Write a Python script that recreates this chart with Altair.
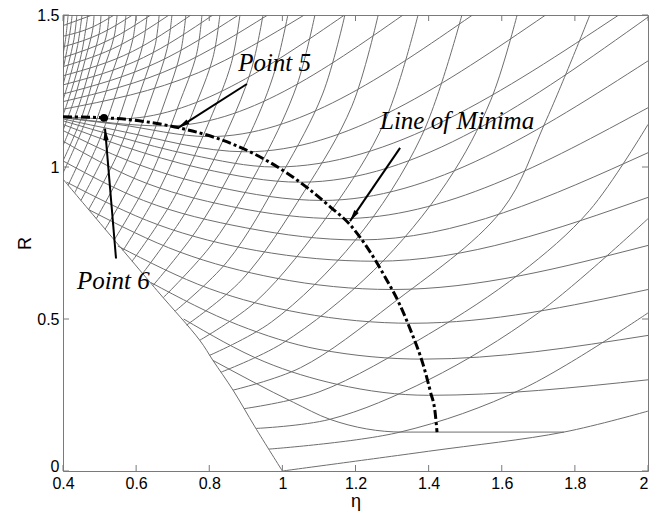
import math
import altair as alt
import pandas as pd

# ---- carpet of R versus eta -------------------------------------------------
# family A: curves with a minimum (control points, eta ascending)
arc_eta = [
    [0.81, 1.03, 1.13, 1.33, 1.77],
    [0.73, 0.95, 1.15, 1.40, 2.0],
    [0.64, 0.88, 1.10, 1.385, 2.0],
    [0.55, 0.80, 1.05, 1.355, 2.0],
    [0.47, 0.72, 0.98, 1.30, 2.0],
    [0.41, 0.66, 0.93, 1.255, 2.0],
    [0.4, 0.62, 0.90, 1.21, 2.0],
    [0.4, 0.60, 0.86, 1.16, 2.0],
    [0.4, 0.58, 0.82, 1.11, 2.0],
    [0.4, 0.56, 0.78, 1.05, 2.0],
    [0.4, 0.55, 0.75, 0.98, 1.92],
    [0.4, 0.55, 0.90, 1.72],
    [0.4, 0.55, 0.80, 1.52],
    [0.4, 0.68, 1.33],
    [0.4, 0.55, 1.17],
    [0.4, 0.77, 1.06],
    [0.4, 0.71, 0.96],
    [0.4, 0.66, 0.88],
    [0.4, 0.62, 0.81],
    [0.4, 0.59, 0.75],
    [0.4, 0.555, 0.69],
    [0.4, 0.53, 0.64],
    [0.4, 0.505, 0.59],
    [0.4, 0.48, 0.54],
    [0.4, 0.48],
]
arc_R = [
    [0.364, 0.226, 0.17, 0.128, 0.128],
    [0.50, 0.36, 0.285, 0.249, 0.30],
    [0.62, 0.48, 0.40, 0.368, 0.446],
    [0.74, 0.60, 0.52, 0.486, 0.597],
    [0.86, 0.72, 0.635, 0.597, 0.742],
    [0.95, 0.81, 0.725, 0.69, 0.90],
    [1.02, 0.89, 0.80, 0.76, 1.047],
    [1.085, 0.96, 0.87, 0.83, 1.195],
    [1.12, 1.02, 0.935, 0.89, 1.349],
    [1.14, 1.07, 0.995, 0.95, 1.493],
    [1.152, 1.10, 1.04, 1.0, 1.5],
    [1.158, 1.12, 1.05, 1.5],
    [1.162, 1.14, 1.10, 1.5],
    [1.164, 1.135, 1.5],
    [1.165, 1.158, 1.5],
    [1.19, 1.31, 1.5],
    [1.215, 1.33, 1.5],
    [1.24, 1.345, 1.5],
    [1.27, 1.36, 1.5],
    [1.30, 1.38, 1.5],
    [1.33, 1.40, 1.5],
    [1.36, 1.42, 1.5],
    [1.395, 1.44, 1.5],
    [1.43, 1.46, 1.5],
    [1.465, 1.5],
]

# family B: rising curves from the lower-left boundary
steep_eta = [
    [1.0, 1.40, 1.77, 2.0],
    [0.963, 1.322, 1.66, 2.0],
    [0.928, 1.13, 1.40, 1.70, 2.0],
    [0.895, 1.10, 1.40, 1.65, 1.84, 2.0],
    [0.865, 1.05, 1.30, 1.60, 1.72, 1.841],
    [0.832, 1.0, 1.25, 1.45, 1.57, 1.642],
    [0.80, 0.97, 1.20, 1.38, 1.491],
    [0.774, 0.93, 1.13, 1.28, 1.371],
    [0.738, 0.89, 1.06, 1.19, 1.262],
    [0.706, 0.85, 1.00, 1.11, 1.171],
    [0.674, 0.81, 0.95, 1.04, 1.089],
    [0.646, 0.77, 0.90, 0.975, 1.015],
    [0.618, 0.735, 0.85, 0.915, 0.947],
    [0.589, 0.70, 0.80, 0.86, 0.884],
    [0.564, 0.665, 0.755, 0.81, 0.829],
    [0.540, 0.635, 0.715, 0.765, 0.780],
    [0.515, 0.605, 0.68, 0.722, 0.736],
    [0.491, 0.575, 0.645, 0.685, 0.698],
    [0.470, 0.55, 0.615, 0.652, 0.663],
    [0.449, 0.525, 0.585, 0.62, 0.630],
    [0.432, 0.50, 0.558, 0.591, 0.600],
    [0.414, 0.478, 0.532, 0.564, 0.572],
    [0.4, 0.455, 0.508, 0.54, 0.548],
    [0.4, 0.45, 0.49, 0.52, 0.526],
    [0.4, 0.44, 0.475, 0.499, 0.504],
    [0.4, 0.43, 0.46, 0.481, 0.485],
    [0.4, 0.425, 0.45, 0.468],
    [0.4, 0.42, 0.44, 0.452],
    [0.4, 0.415, 0.43, 0.438],
    [0.4, 0.41, 0.42, 0.425],
    [0.4, 0.407, 0.414],
    [0.4, 0.403],
]
steep_R = [
    [0.0, 0.065, 0.128, 0.197],
    [0.072, 0.128, 0.272, 0.52],
    [0.14, 0.17, 0.30, 0.52, 0.83],
    [0.205, 0.26, 0.45, 0.65, 0.857, 1.14],
    [0.266, 0.34, 0.55, 0.857, 1.15, 1.5],
    [0.325, 0.42, 0.66, 0.95, 1.22, 1.5],
    [0.38, 0.49, 0.76, 1.10, 1.5],
    [0.43, 0.56, 0.85, 1.15, 1.5],
    [0.48, 0.63, 0.92, 1.20, 1.5],
    [0.525, 0.69, 0.98, 1.24, 1.5],
    [0.57, 0.75, 1.03, 1.27, 1.5],
    [0.61, 0.80, 1.08, 1.30, 1.5],
    [0.65, 0.85, 1.12, 1.32, 1.5],
    [0.69, 0.89, 1.15, 1.34, 1.5],
    [0.725, 0.93, 1.18, 1.36, 1.5],
    [0.76, 0.96, 1.20, 1.37, 1.5],
    [0.795, 0.99, 1.22, 1.38, 1.5],
    [0.83, 1.02, 1.24, 1.39, 1.5],
    [0.86, 1.045, 1.26, 1.40, 1.5],
    [0.89, 1.07, 1.275, 1.41, 1.5],
    [0.915, 1.09, 1.29, 1.42, 1.5],
    [0.94, 1.11, 1.30, 1.42, 1.5],
    [0.98, 1.13, 1.31, 1.43, 1.5],
    [1.02, 1.16, 1.32, 1.44, 1.5],
    [1.07, 1.19, 1.33, 1.44, 1.5],
    [1.12, 1.22, 1.35, 1.45, 1.5],
    [1.17, 1.26, 1.37, 1.5],
    [1.22, 1.30, 1.40, 1.5],
    [1.27, 1.34, 1.42, 1.5],
    [1.32, 1.38, 1.45, 1.5],
    [1.37, 1.42, 1.5],
    [1.43, 1.5],
]

# lower-left edge of the carpet
edge_eta = [1.0, 0.925, 0.865, 0.81, 0.774, 0.657, 0.4]
edge_R = [0.0, 0.145, 0.266, 0.364, 0.43, 0.594, 0.96]

# line of minima
min_eta = [0.40, 0.51, 0.62, 0.72, 0.82, 0.92, 1.00, 1.07, 1.13, 1.185,
           1.235, 1.28, 1.32, 1.355, 1.385, 1.405, 1.418, 1.423]
min_R = [1.165, 1.162, 1.150, 1.128, 1.095, 1.045, 0.99, 0.93, 0.87, 0.81,
         0.73, 0.64, 0.55, 0.45, 0.35, 0.26, 0.19, 0.128]

# labelled points and arrows
point6 = (0.512, 1.162)
arrow_names = ["Point 5", "Point 6", "Line of Minima"]
arrow_tail_eta = [0.903, 0.545, 1.322]
arrow_tail_R = [1.273, 0.699, 1.063]
arrow_tip_eta = [0.715, 0.515, 1.185]
arrow_tip_R = [1.129, 1.126, 0.822]
label_eta = [0.879, 0.438, 1.267]
label_R = [1.316, 0.60, 1.126]

x_ticks = [0.4, 0.6, 0.8, 1.0, 1.2, 1.4, 1.6, 1.8, 2.0]
y_ticks = [0.0, 0.5, 1.0, 1.5]

W, H = 585, 456
ETA_DOM = [0.4, 2.0]
R_DOM = [0.0, 1.5]


def curves_frame(eta_lists, r_lists, prefix):
    rows = []
    for i, (xs, ys) in enumerate(zip(eta_lists, r_lists)):
        for j, (x, y) in enumerate(zip(xs, ys)):
            rows.append({"curve": f"{prefix}{i}", "idx": j, "eta": x, "R": y})
    return pd.DataFrame(rows)


arcs_df = curves_frame(arc_eta, arc_R, "a")
steep_df = curves_frame(steep_eta, steep_R, "s")
edge_df = curves_frame([edge_eta], [edge_R], "e")
min_df = curves_frame([min_eta], [min_R], "m")

xs = alt.Scale(domain=ETA_DOM, nice=False, zero=False)
ys = alt.Scale(domain=R_DOM, nice=False, zero=False)
x_axis = alt.Axis(
    values=x_ticks, format=".1~f", title="η", ticks=False, domain=False,
    grid=False, labelPadding=4, titlePadding=1, labelFlush=False,
    labelAlign={"condition": {"test": "datum.value >= 2", "value": "right"},
                "value": "center"},
)
y_axis = alt.Axis(
    values=y_ticks, format=".1~f", title="R", ticks=False, domain=False,
    grid=False, labelPadding=4, titlePadding=2, labelFlush=False,
    labelBaseline={"condition": {"test": "datum.value == 0",
                                 "value": "alphabetic"},
                   "value": "middle"},
)


def X(field="eta"):
    return alt.X(f"{field}:Q", scale=xs, axis=x_axis)


def Y(field="R"):
    return alt.Y(f"{field}:Q", scale=ys, axis=y_axis)


mesh_color = "#6e6e6e"
arcs = alt.Chart(arcs_df).mark_line(
    color=mesh_color, strokeWidth=1, interpolate="monotone", clip=True
).encode(x=X(), y=Y(), detail="curve:N", order="idx:Q")

steep = alt.Chart(steep_df).mark_line(
    color=mesh_color, strokeWidth=1, interpolate="catmull-rom", clip=True
).encode(x=X(), y=Y(), detail="curve:N", order="idx:Q")

edge = alt.Chart(edge_df).mark_line(
    color=mesh_color, strokeWidth=1, interpolate="catmull-rom", clip=True
).encode(x=X(), y=Y(), order="idx:Q")

minima = alt.Chart(min_df).mark_line(
    color="black", strokeWidth=3, strokeDash=[9, 3, 3, 3],
    interpolate="monotone", clip=True
).encode(x=X(), y=Y(), order="idx:Q")

# arrows
arrow_rows = []
head_rows = []
for name, te, tr, pe, pr in zip(arrow_names, arrow_tail_eta, arrow_tail_R,
                                arrow_tip_eta, arrow_tip_R):
    arrow_rows.append({"arrow": name, "idx": 0, "eta": te, "R": tr})
    arrow_rows.append({"arrow": name, "idx": 1, "eta": pe, "R": pr})
    dx = (pe - te) * W / (ETA_DOM[1] - ETA_DOM[0])
    dy = -(pr - tr) * H / (R_DOM[1] - R_DOM[0])
    ang = math.degrees(math.atan2(dx, -dy)) % 360
    head_rows.append({"arrow": name, "eta": pe, "R": pr, "ang": ang})
arrow_df = pd.DataFrame(arrow_rows)
head_df = pd.DataFrame(head_rows)

shafts = alt.Chart(arrow_df).mark_line(color="black", strokeWidth=2).encode(
    x=X(), y=Y(), detail="arrow:N", order="idx:Q")
heads = alt.Chart(head_df).mark_point(
    shape="M0,0L-0.5,2.2L0.5,2.2Z", filled=True, color="black",
    opacity=1, size=110, strokeWidth=0
).encode(x=X(), y=Y(), angle=alt.Angle("ang:Q", scale=None))

dot = alt.Chart(pd.DataFrame({"eta": [point6[0]], "R": [point6[1]]})).mark_circle(
    color="black", size=60, opacity=1).encode(x=X(), y=Y())

labels = alt.Chart(pd.DataFrame({"eta": label_eta, "R": label_R,
                                 "text": arrow_names})).mark_text(
    font="Liberation Serif", fontStyle="italic", fontSize=25, align="left",
    baseline="alphabetic", color="black"
).encode(x=X(), y=Y(), text="text:N")

# inward tick marks on all four sides
xt = pd.DataFrame({"eta": x_ticks})
yt = pd.DataFrame({"R": y_ticks})
tick_style = dict(color="#7a7a7a", strokeWidth=1)
t_bottom = alt.Chart(xt).mark_rule(**tick_style).encode(
    x=X(), y=alt.value(H), y2=alt.value(H - 6))
t_top = alt.Chart(xt).mark_rule(**tick_style).encode(
    x=X(), y=alt.value(0), y2=alt.value(6))
t_left = alt.Chart(yt).mark_rule(**tick_style).encode(
    y=Y(), x=alt.value(0), x2=alt.value(6))
t_right = alt.Chart(yt).mark_rule(**tick_style).encode(
    y=Y(), x=alt.value(W), x2=alt.value(W - 6))

chart = alt.layer(
    arcs, steep, edge, minima, shafts, heads, dot, labels,
    t_bottom, t_top, t_left, t_right
).properties(
    width=W, height=H,
    autosize=alt.AutoSizeParams(type="none"),
    padding={"left": 63, "top": 15, "right": 2, "bottom": 51},
    background="white",
).configure_view(
    stroke="#7a7a7a", strokeWidth=1
).configure_axis(
    labelFont="Liberation Sans", labelFontSize=16, labelColor="black",
    titleFont="Liberation Sans", titleFontSize=18, titleFontWeight="normal",
    titleColor="black"
)

chart.save("out.html", embed_options={"renderer": "svg", "actions": False})
